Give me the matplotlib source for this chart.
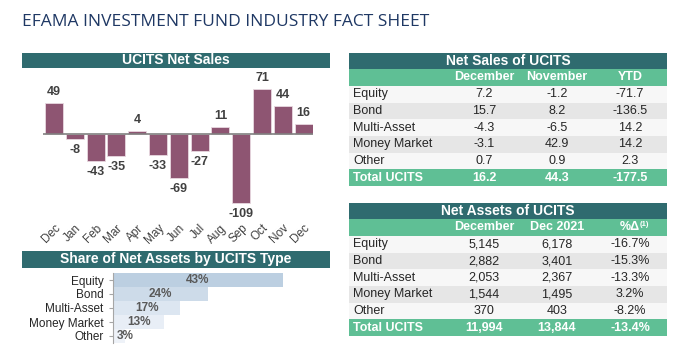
import matplotlib.pyplot as plt
from matplotlib.patches import Rectangle

months = ["Dec", "Jan", "Feb", "Mar", "Apr", "May", "Jun", "Jul", "Aug", "Sep", "Oct", "Nov", "Dec"]
net_sales = [49, -8, -43, -35, 4, -33, -69, -27, 11, -109, 71, 44, 16]

share_types = ["Equity", "Bond", "Multi-Asset", "Money Market", "Other"]
share_values = [43, 24, 17, 13, 3]

row_labels = ["Equity", "Bond", "Multi-Asset", "Money Market", "Other"]
sales_cols = ["December", "November", "YTD"]
sales_dec = ["7.2", "15.7", "-4.3", "-3.1", "0.7"]
sales_nov = ["-1.2", "8.2", "-6.5", "42.9", "0.9"]
sales_ytd = ["-71.7", "-136.5", "14.2", "14.2", "2.3"]
sales_total = ["16.2", "44.3", "-177.5"]

assets_cols = ["December", "Dec 2021", "%\u0394"]
assets_dec = ["5,145", "2,882", "2,053", "1,544", "370"]
assets_2021 = ["6,178", "3,401", "2,367", "1,495", "403"]
assets_chg = ["-16.7%", "-15.3%", "-13.3%", "3.2%", "-8.2%"]
assets_total = ["11,994", "13,844", "-13.4%"]

W, H = 675, 349
TEAL = "#2f6b6f"
GREEN = "#5fbf95"
PURPLE = "#8e5572"
TXT = "#404040"
plt.rcParams["font.family"] = ["Liberation Sans", "DejaVu Sans"]

fig = plt.figure(figsize=(W / 100, H / 100), dpi=100)
fig.patch.set_facecolor("white")


def px_axes(x0, y0, x1, y1):
    # pixel box (top-left origin) -> figure axes
    return fig.add_axes([x0 / W, 1 - y1 / H, (x1 - x0) / W, (y1 - y0) / H])


def band(x0, y0, x1, y1, color, text="", size=10, tcolor="white", bold=True):
    fig.patches.append(Rectangle((x0 / W, 1 - y1 / H), (x1 - x0) / W, (y1 - y0) / H,
                                 transform=fig.transFigure, facecolor=color,
                                 edgecolor="none", zorder=0))
    if text:
        fig.text((x0 + x1) / 2 / W, 1 - (y0 + y1) / 2 / H, text, ha="center", va="center",
                 color=tcolor, fontsize=size, fontweight="bold" if bold else "normal")


fig.text(22 / W, 1 - 22 / H, "EFAMA INVESTMENT FUND INDUSTRY FACT SHEET",
         family=["Open Sans", "DejaVu Sans"], fontsize=12.5, color="#1f3864",
         ha="left", va="center")

# UCITS Net Sales bar chart
band(22, 53, 330, 68, TEAL, "UCITS Net Sales")
ax = px_axes(43, 70, 313, 218)
x = range(len(months))
ax.bar(x, net_sales, width=0.87, color=PURPLE, edgecolor="#e8d8e0", linewidth=0.6)
ax.axhline(0, color="#808080", linewidth=1.2)
ax.set_xlim(-0.53, 12.45)
ax.set_ylim(-132.3, 100.8)
for i, v in enumerate(net_sales):
    if v >= 0:
        ax.text(i, v + 8, str(v), ha="center", va="bottom", fontsize=9,
                fontweight="bold", color=TXT)
    else:
        ax.text(i, v - 8, str(v), ha="center", va="top", fontsize=9,
                fontweight="bold", color=TXT)
ax.set_xticks(list(x))
ax.set_xticklabels(months, rotation=45, ha="right", rotation_mode="anchor",
                   fontsize=8.5, color=TXT)
ax.tick_params(axis="x", length=0, pad=3)
ax.set_yticks([])
for s in ax.spines.values():
    s.set_visible(False)
ax.set_facecolor("none")

# Share of Net Assets
band(22, 251, 330, 268, TEAL, "Share of Net Assets by UCITS Type")
ax2 = px_axes(113, 273, 330, 343)
share_colors = ["#bccfe1", "#cddbe9", "#dce6f1", "#e8eef6", "#eef2f8"]
ypos = list(range(len(share_types)))
ax2.barh(ypos, share_values, height=0.93, color=share_colors)
ax2.set_xlim(0, 217 / 3.95)
ax2.set_ylim(len(share_types) - 0.5, -0.5)
for i, v in enumerate(share_values):
    ax2.text(max(v / 2, 3), i, f"{v}%", ha="center", va="center", fontsize=8.5,
             fontweight="bold", color="#595959")
ax2.set_yticks(ypos)
ax2.set_yticklabels(share_types, fontsize=8.5, color="#262626")
ax2.tick_params(axis="y", length=3, color="#a6a6a6", pad=4)
ax2.set_xticks([])
for k in ["top", "right", "bottom"]:
    ax2.spines[k].set_visible(False)
ax2.spines["left"].set_color("#a6a6a6")
ax2.set_facecolor("none")


def table(top, title, cols, c1, c2, c3, total, sup=False):
    x0, x1 = 349, 667
    band(x0, top, x1, top + 16, TEAL, title)
    band(x0, top + 16, x1, top + 33, GREEN)
    cx = [484, 557, 630]
    hy = 1 - (top + 24.5) / H
    for c, name in zip(cx, cols):
        fig.text(c / W, hy, name, ha="center", va="center", color="white",
                 fontsize=9, fontweight="bold")
    if sup:
        fig.text(644 / W, 1 - (top + 21) / H, "(1)", ha="center", va="center",
                 color="white", fontsize=5.5, fontweight="bold")
    rh = 16.7
    y = top + 33
    for r, lab in enumerate(row_labels):
        band(x0, y, x1, y + rh, "#f7f7f7" if r % 2 == 0 else "#e6e6e6")
        cy = 1 - (y + rh / 2) / H
        fig.text(353 / W, cy, lab, ha="left", va="center", fontsize=9, color="#262626")
        for c, vals in zip(cx, [c1, c2, c3]):
            fig.text(c / W, cy, vals[r], ha="center", va="center", fontsize=9,
                     color="#262626")
        y += rh
    band(x0, y, x1, y + rh, GREEN)
    cy = 1 - (y + rh / 2) / H
    fig.text(353 / W, cy, "Total UCITS", ha="left", va="center", fontsize=9,
             color="white", fontweight="bold")
    for c, v in zip(cx, total):
        fig.text(c / W, cy, v, ha="center", va="center", fontsize=9,
                 color="white", fontweight="bold")


table(53, "Net Sales of UCITS", sales_cols, sales_dec, sales_nov, sales_ytd, sales_total)
table(203, "Net Assets of UCITS", assets_cols, assets_dec, assets_2021, assets_chg,
      assets_total, sup=True)

fig.savefig("out.png", dpi=100)
